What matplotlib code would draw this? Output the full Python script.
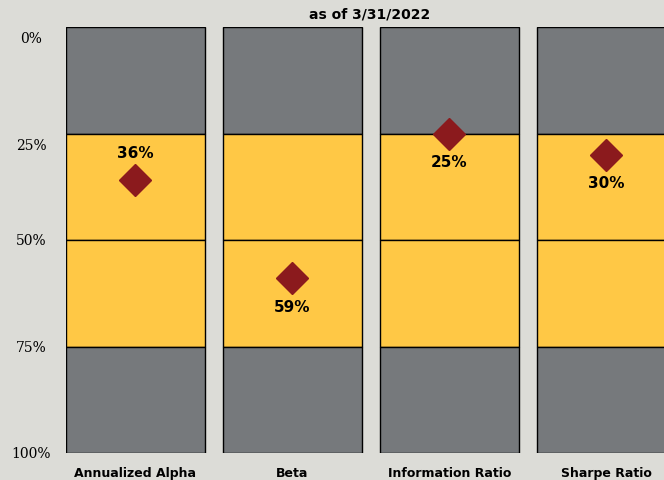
import matplotlib
matplotlib.use('Agg')
import matplotlib.pyplot as plt

# percentile ranks as of 3/31/2022 (0% = best, at the top)
categories = ['Annualized Alpha', 'Beta', 'Information Ratio', 'Sharpe Ratio']
ranks = [36, 59, 25, 30]
label_above = [True, False, False, False]

# quartile bands: start, height, colour
band_bottoms = [0, 25, 50, 75]
band_heights = [25, 25, 25, 25]
band_colors = ['#76797c', '#ffc845', '#ffc845', '#76797c']

tick_values = [0, 25, 50, 75, 100]
tick_labels = ['0%', '25%', '50%', '75%', '100%']

bg = '#dcdcd7'
fig = plt.figure(figsize=(6.64, 4.8), dpi=100, facecolor=bg)
ax = fig.add_axes([66 / 664, 27 / 480, 1 - 66 / 664, 426 / 480])
ax.set_facecolor(bg)

bar_w = 0.885
x = list(range(len(categories)))
for b, h, c in zip(band_bottoms, band_heights, band_colors):
    ax.bar(x, [h] * len(x), bottom=b, width=bar_w, color=c,
           edgecolor='black', linewidth=1.0, zorder=2)

ax.plot(x, ranks, linestyle='none', marker='D', markersize=16.5,
        color='#8b1a1d', zorder=4)

for xi, r, up in zip(x, ranks, label_above):
    dy = 19.5 if up else -21
    ax.annotate(f'{r}%', (xi, r), textcoords='offset points', xytext=(0, dy),
                ha='center', va='center', fontsize=11, fontweight='bold', zorder=5)

# labels sit a little off the lines in the original, nudge them (in % units)
nudge = [2.4, 2.6, -0.1, 0, 0]
ax.set_yticks([v + n for v, n in zip(tick_values, nudge)])
ax.set_yticklabels(tick_labels, family='DejaVu Serif', fontsize=10, ha='center')
ax.set_xticks(x)
ax.set_xticklabels(categories, fontweight='bold', fontsize=9)
ax.tick_params(axis='y', length=0, pad=25)
ax.tick_params(axis='x', length=0, pad=10)
for s in ax.spines.values():
    s.set_visible(False)

ax.set_xlim(-bar_w / 2, (664 - 135.5) / 157)
ax.set_ylim(100, 0)

fig.text(370 / 664, 1 - 14 / 480, 'as of 3/31/2022', ha='center', va='center',
         fontsize=10, fontweight='bold')

fig.savefig('out.png', dpi=100, facecolor=bg)
